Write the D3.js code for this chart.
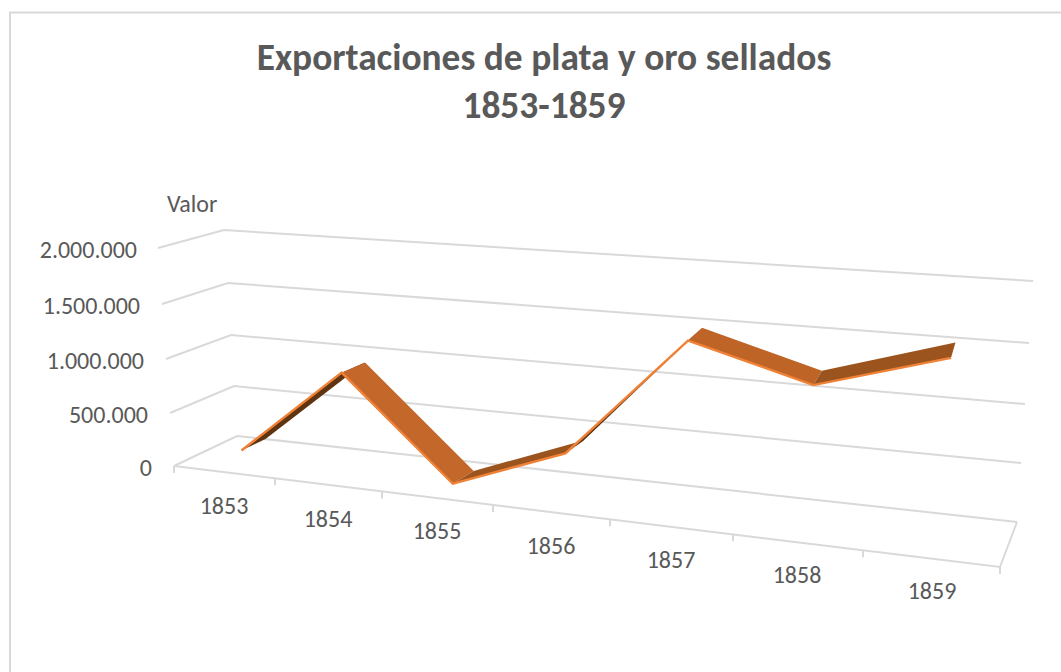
<!DOCTYPE html>
<html><head><meta charset="utf-8">
<script src="https://cdnjs.cloudflare.com/ajax/libs/d3/7.8.5/d3.min.js"></script>
<style>html,body{margin:0;padding:0;background:#fff;overflow:hidden}svg{display:block}text{font-family:Carlito,Lato,"Open Sans",sans-serif}</style>
</head><body><svg id="c" width="1061" height="672"></svg>
<script>
const titleLines = ["Exportaciones de plata y oro sellados", "1853-1859"];
const yTitle = "Valor";
const years = ["1853","1854","1855","1856","1857","1858","1859"];
const values = [125000, 955000, 45000, 435000, 1525000, 1245000, 1575000];
const yTicks = [0, 500000, 1000000, 1500000, 2000000];
const yTickLabels = ["0","500.000","1.000.000","1.500.000","2.000.000"];

const W = 1061, H = 672;
const svg = d3.select("#c").attr("viewBox", `0 0 ${W} ${H}`);
const gridC = "#d9d9d9", textC = "#595959";

// perspective frame, one scale for each edge of the box
const leftFrontX  = d3.scaleLinear().domain(yTicks).range([174,170,166,162,158]);
const leftFrontY  = d3.scaleLinear().domain(yTicks).range([466,413,359,304,248]);
const leftBackX   = d3.scaleLinear().domain(yTicks).range([237,234,231,228,224]);
const leftBackY   = d3.scaleLinear().domain(yTicks).range([436,386,335,283,230]);
const rightBackX  = d3.scaleLinear().domain(yTicks).range([1017,1021,1025,1029,1033]);
const rightBackY  = d3.scaleLinear().domain(yTicks).range([522,463,404,343,281]);
const rightFrontX = d3.scaleLinear().domain(yTicks).range([1000,1006,1012,1018,1024]);
const rightFrontY = d3.scaleLinear().domain(yTicks).range([567,506,446,385,324]);
// category boundaries along the front and along the back
const frontU = d3.scaleLinear().domain(d3.range(8)).range([174,275,382,493,610,733,863,1000].map(x => (x-174)/826));
const backU  = d3.scaleLinear().domain(d3.range(8)).range([0,.13,.26,.395,.535,.68,.825,1]);

function project(cat, v, depth){
  const uf = frontU(cat), ub = backU(cat);
  const fx = leftFrontX(v)+(rightFrontX(v)-leftFrontX(v))*uf,
        fy = leftFrontY(v)+(rightFrontY(v)-leftFrontY(v))*uf,
        bx = leftBackX(v)+(rightBackX(v)-leftBackX(v))*ub,
        by = leftBackY(v)+(rightBackY(v)-leftBackY(v))*ub;
  return [fx+(bx-fx)*depth, fy+(by-fy)*depth];
}

// chart frame: its right and bottom edges fall outside the picture
svg.append("rect").attr("x",10).attr("y",12.5).attr("width",1100).attr("height",700)
  .attr("fill","#fff").attr("stroke",gridC).attr("stroke-width",2);

const line = d3.line();
const grid = svg.append("g").attr("fill","none").attr("stroke",gridC).attr("stroke-width",2);
yTicks.forEach(t => {
  grid.append("path").attr("d", line([
    [leftFrontX(t),leftFrontY(t)],[leftBackX(t),leftBackY(t)],[rightBackX(t),rightBackY(t)]]));
});
// floor front edge, right edge and tick marks
grid.append("path").attr("d", line([[leftFrontX(0),leftFrontY(0)],[rightFrontX(0),rightFrontY(0)],[rightBackX(0),rightBackY(0)]]));
d3.range(8).forEach(i => {
  const p = project(i,0,0);
  grid.append("path").attr("d", line([p,[p[0],p[1]+7]]));
});

// ribbon
const frontDepth = 0.28, backDepth = 0.66;
const faceColor = (a,b) => {
  const dy = values[b]-values[a];
  if (dy < 0) return Math.abs(dy) > 600000 ? "#c4672a" : "#bf6427";
  return dy > 600000 ? "#5f3410" : "#9c541e";
};
const ribbon = svg.append("g");
d3.range(years.length-1).forEach(i => {
  const q = [project(i+.5,values[i],frontDepth),project(i+1.5,values[i+1],frontDepth),
             project(i+1.5,values[i+1],backDepth),project(i+.5,values[i],backDepth)];
  ribbon.append("path").attr("d", line(q)+"Z").attr("fill",faceColor(i,i+1));
});
ribbon.append("path").attr("fill","none").attr("stroke","#f08238").attr("stroke-width",2.4)
  .attr("stroke-linejoin","miter")
  .attr("d", line(values.map((v,i)=>project(i+.5,v,frontDepth))));

// labels
const yLabelX = d3.scaleLinear().domain(yTicks).range([152,148,144,140,137]);
const yLabelY = d3.scaleLinear().domain(yTicks).range([468,415,361,306,250]);
svg.append("g").attr("fill",textC).attr("font-size",24).attr("text-anchor","end")
  .selectAll("text").data(yTicks).join("text")
  .attr("x",d=>yLabelX(d)).attr("y",d=>yLabelY(d)).attr("dy","0.35em")
  .text((d,i)=>yTickLabels[i]);
svg.append("text").attr("x",167).attr("y",204).attr("dy","0.35em").attr("fill",textC).attr("font-size",24).text(yTitle);

const xLabelY = d3.scaleLinear().domain(d3.range(7)).range([506,519,531,546,560,575,591]);
const xLabelX = d3.scaleLinear().domain(d3.range(7)).range([224,328,437,551,671,797,932]);
svg.append("g").attr("fill",textC).attr("font-size",24).attr("text-anchor","middle")
  .selectAll("text").data(years).join("text")
  .attr("x",(d,i)=>xLabelX(i)).attr("y",(d,i)=>xLabelY(i)).attr("dy","0.35em").text(d=>d);

svg.append("g").attr("fill",textC).attr("font-size",37.4).attr("font-weight",700).attr("text-anchor","middle")
  .selectAll("text").data(titleLines).join("text")
  .attr("x",544).attr("y",(d,i)=>57+i*48).attr("dy","0.35em").text(d=>d);
</script></body></html>
